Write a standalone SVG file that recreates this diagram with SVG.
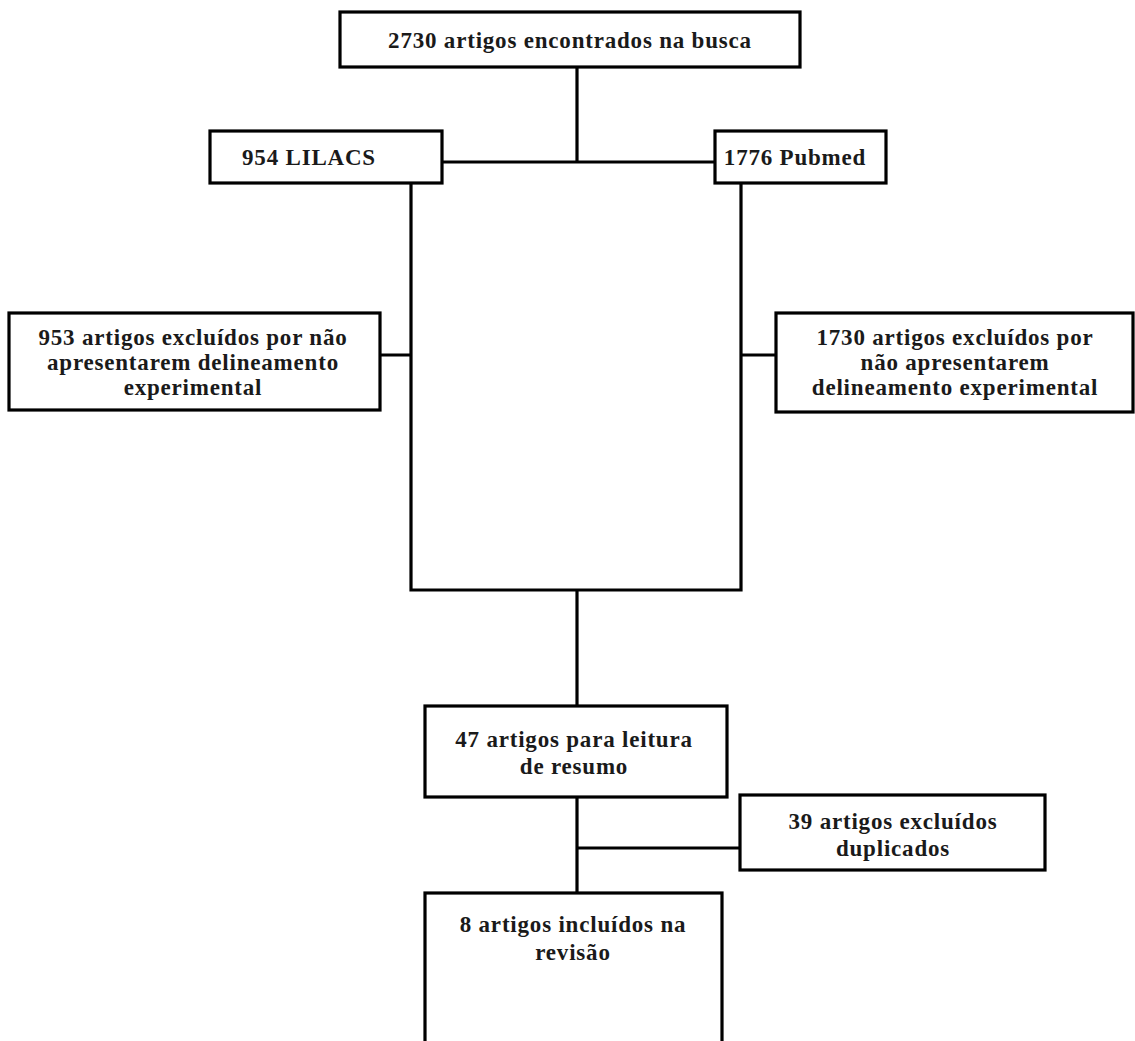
<svg xmlns="http://www.w3.org/2000/svg" width="1135" height="1041" viewBox="0 0 1135 1041">
<style>
.box{fill:#fff;stroke:#000;stroke-width:3.2}
.ln{stroke:#000;stroke-width:3.2;fill:none}
text{font-family:"Liberation Serif","Times New Roman",serif;font-weight:bold;font-size:23px;letter-spacing:0.8px;fill:#1a1a1a;text-anchor:middle}
</style>
<rect width="1135" height="1041" fill="#fff"/>
<g id="connectors">
<path class="ln" d="M577 67V162M442 162H715"/>
<path class="ln" d="M411 183V590H741V183"/>
<path class="ln" d="M380 355H411M741 355H776"/>
<path class="ln" d="M577 590V706"/>
<path class="ln" d="M577 797V893M577 848H740"/>
</g>
<g id="n1"><rect class="box" x="340" y="12" width="460" height="55"/><text x="570" y="48">2730 artigos encontrados na busca</text></g>
<g id="n2"><rect class="box" x="210" y="131" width="232" height="52"/><text x="309" y="165">954 LILACS</text></g>
<g id="n3"><rect class="box" x="715" y="131" width="171" height="52"/><text x="795" y="165">1776 Pubmed</text></g>
<g id="n4"><rect class="box" x="9" y="313" width="371" height="97"/><text x="193" y="345">953 artigos excluídos por não</text><text x="193" y="370">apresentarem delineamento</text><text x="193" y="395">experimental</text></g>
<g id="n5"><rect class="box" x="776" y="313" width="357" height="99"/><text x="955" y="345">1730 artigos excluídos por</text><text x="955" y="370">não apresentarem</text><text x="955" y="395">delineamento experimental</text></g>
<g id="n6"><rect class="box" x="425" y="706" width="302" height="91"/><text x="574" y="747">47 artigos para leitura</text><text x="574" y="774">de resumo</text></g>
<g id="n7"><rect class="box" x="740" y="795" width="305" height="75"/><text x="893" y="829">39 artigos excluídos</text><text x="893" y="856">duplicados</text></g>
<g id="n8"><rect class="box" x="425" y="893" width="297" height="160"/><text x="573" y="932">8 artigos incluídos na</text><text x="573" y="960">revisão</text></g>
</svg>
